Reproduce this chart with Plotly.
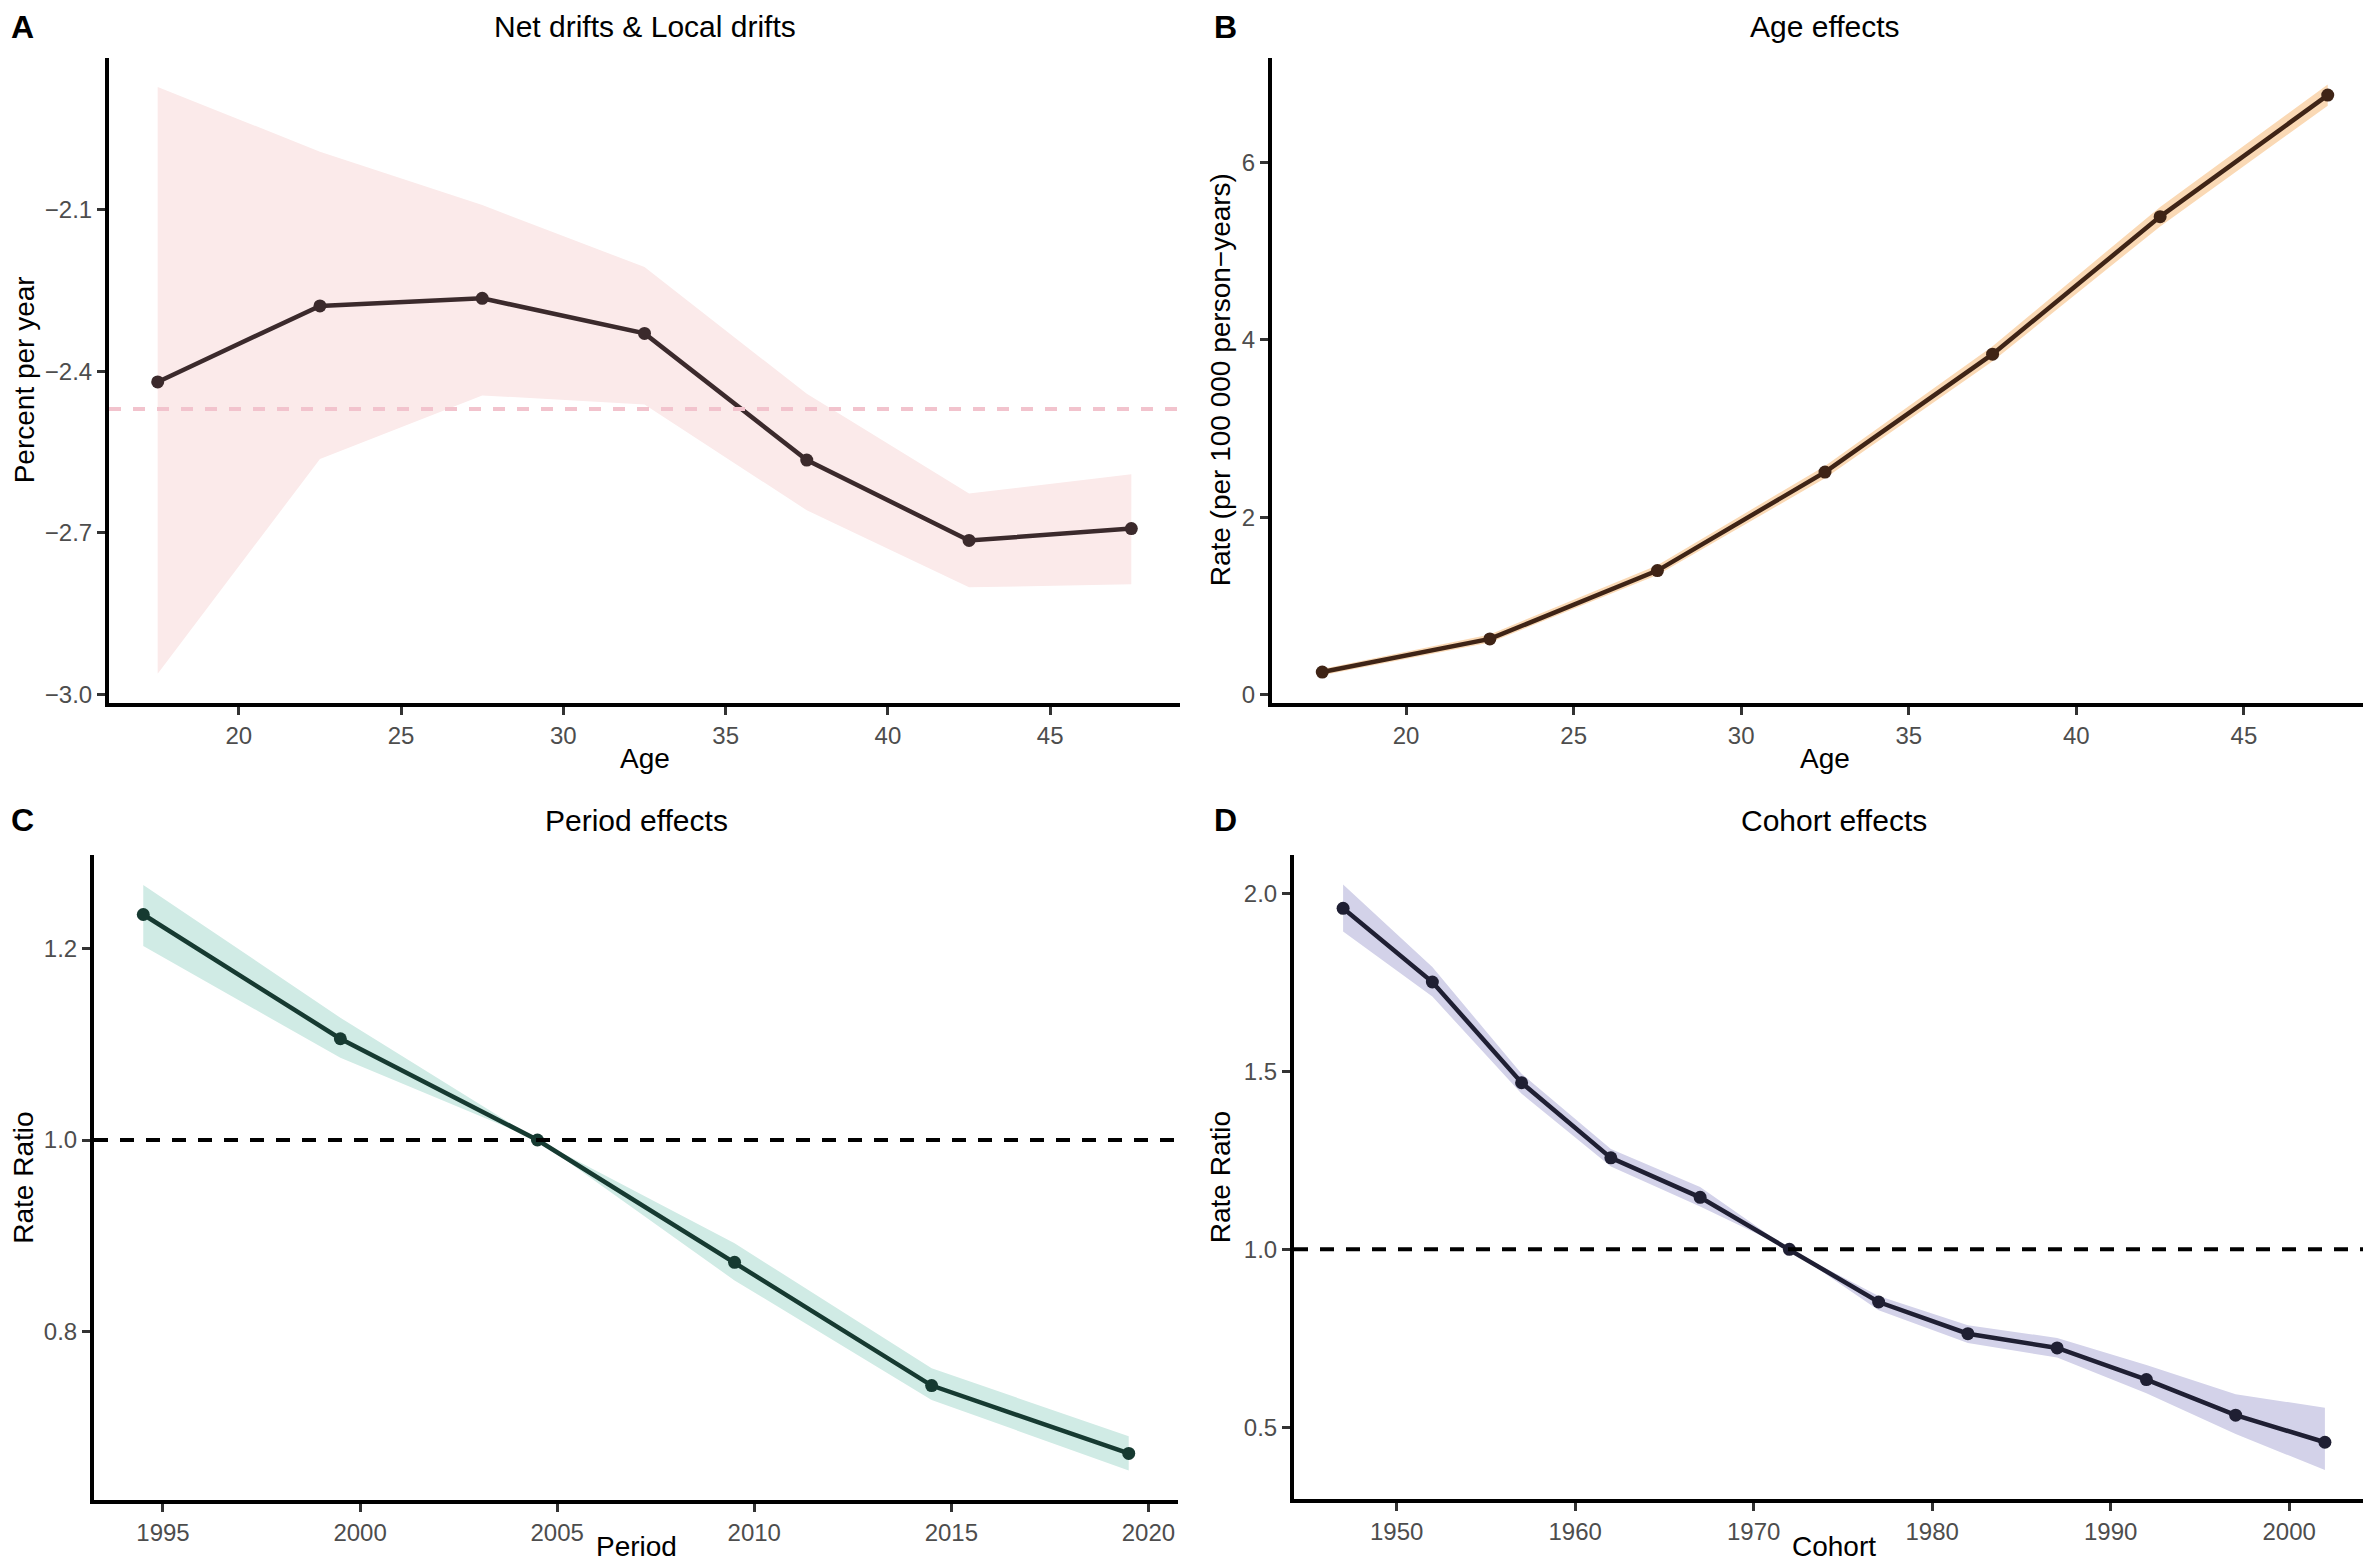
import plotly.graph_objects as go

# ---------------- data ----------------
# Panel A: Net drifts & local drifts
A_AGE = [17.5, 22.5, 27.5, 32.5, 37.5, 42.5, 47.5]
A_DRIFT = [-2.42, -2.279, -2.265, -2.33, -2.565, -2.714, -2.692]
A_UPPER = [-1.873, -1.993, -2.092, -2.207, -2.442, -2.627, -2.591]
A_LOWER = [-2.961, -2.563, -2.445, -2.462, -2.658, -2.801, -2.795]
NET_DRIFT = -2.47

# Panel B: Age effects
B_AGE = [17.5, 22.5, 27.5, 32.5, 37.5, 42.5, 47.5]
B_RATE = [0.256, 0.63, 1.40, 2.51, 3.84, 5.39, 6.76]
B_UPPER = [0.29, 0.68, 1.46, 2.58, 3.93, 5.50, 6.88]
B_LOWER = [0.22, 0.59, 1.35, 2.44, 3.76, 5.28, 6.64]

# Panel C: Period effects
C_PERIOD = [1994.5, 1999.5, 2004.5, 2009.5, 2014.5, 2019.5]
C_RR = [1.236, 1.106, 1.0, 0.872, 0.743, 0.672]
C_UPPER = [1.267, 1.128, 1.0, 0.892, 0.761, 0.690]
C_LOWER = [1.203, 1.086, 1.0, 0.853, 0.728, 0.654]

# Panel D: Cohort effects
D_COHORT = [1947, 1952, 1957, 1962, 1967, 1972, 1977, 1982, 1987, 1992, 1997, 2002]
D_RR = [1.958, 1.751, 1.468, 1.257, 1.146, 1.0, 0.852, 0.763, 0.723, 0.634, 0.534, 0.458]
D_UPPER = [2.025, 1.793, 1.493, 1.282, 1.175, 1.0, 0.869, 0.787, 0.751, 0.675, 0.593, 0.555]
D_LOWER = [1.893, 1.710, 1.437, 1.233, 1.120, 1.0, 0.829, 0.737, 0.696, 0.596, 0.481, 0.380]

REF_RR = 1.0

TITLES = ["Net drifts & Local drifts", "Age effects", "Period effects", "Cohort effects"]
LETTERS = ["A", "B", "C", "D"]
XLABELS = ["Age", "Age", "Period", "Cohort"]
YLABELS = ["Percent per year", "Rate (per 100 000 person\u2212years)", "Rate Ratio", "Rate Ratio"]

# ---------------- figure ----------------
W, H = 2371, 1564
FONT = "Liberation Sans, Arial, sans-serif"

def fx(px):
    return px / W

def fy(py):
    return 1 - py / H

fig = go.Figure()

panels = [
    dict(x=A_AGE, y=A_DRIFT, up=A_UPPER, lo=A_LOWER, band="#FBEAEA", line="#3B2A2C",
         xa="x", ya="y", dom_x=(101, 1172), dom_y=(50, 697),
         xr=[16, 49], yr=[-3.015, -1.819], xt=[20, 25, 30, 35, 40, 45], yt=[-3.0, -2.7, -2.4, -2.1], yf=".1f"),
    dict(x=B_AGE, y=B_RATE, up=B_UPPER, lo=B_LOWER, band="#FAD9B5", line="#3F2416",
         xa="x2", ya="y2", dom_x=(1264, 2370), dom_y=(50, 697),
         xr=[16, 49], yr=[-0.09, 7.18], xt=[20, 25, 30, 35, 40, 45], yt=[0, 2, 4, 6], yf="d"),
    dict(x=C_PERIOD, y=C_RR, up=C_UPPER, lo=C_LOWER, band="#D0EBE5", line="#163A31",
         xa="x3", ya="y3", dom_x=(86, 1170), dom_y=(850, 1497),
         xr=[1993.25, 2020.75], yr=[0.623, 1.298], xt=[1995, 2000, 2005, 2010, 2015, 2020], yt=[0.8, 1.0, 1.2], yf=".1f"),
    dict(x=D_COHORT, y=D_RR, up=D_UPPER, lo=D_LOWER, band="#D3D2E9", line="#1F1F33",
         xa="x4", ya="y4", dom_x=(1286, 2366), dom_y=(850, 1496),
         xr=[1944.25, 2004.75], yr=[0.298, 2.107], xt=[1950, 1960, 1970, 1980, 1990, 2000], yt=[0.5, 1.0, 1.5, 2.0], yf=".1f"),
]

layout_axes = {}
for i, p in enumerate(panels):
    # ribbon
    fig.add_trace(go.Scatter(
        x=list(p["x"]) + list(p["x"])[::-1],
        y=list(p["up"]) + list(p["lo"])[::-1],
        fill="toself", fillcolor=p["band"], line=dict(width=0, color=p["band"]),
        mode="lines", hoverinfo="skip", showlegend=False,
        xaxis=p["xa"], yaxis=p["ya"]))
    # line + points
    fig.add_trace(go.Scatter(
        x=p["x"], y=p["y"], mode="lines+markers",
        line=dict(color=p["line"], width=4.5),
        marker=dict(color=p["line"], size=13),
        showlegend=False, xaxis=p["xa"], yaxis=p["ya"]))

    suffix = "" if i == 0 else str(i + 1)
    axis_common = dict(showline=True, linecolor="black", linewidth=4, mirror=False,
                       showgrid=False, zeroline=False, ticks="outside", ticklen=8,
                       tickwidth=3, tickcolor="#333333",
                       tickfont=dict(family=FONT, size=24, color="#4D4D4D"))
    layout_axes["xaxis" + suffix] = dict(
        axis_common, domain=[fx(p["dom_x"][0]), fx(p["dom_x"][1])],
        range=p["xr"], tickvals=p["xt"], anchor="y" + suffix)
    layout_axes["yaxis" + suffix] = dict(
        axis_common, domain=[fy(p["dom_y"][1]), fy(p["dom_y"][0])],
        range=p["yr"], tickvals=p["yt"], tickformat=p["yf"], anchor="x" + suffix)

fig.update_layout(**layout_axes)

# reference dashed lines
fig.add_shape(type="line", xref="x domain", yref="y", x0=0, x1=1, y0=NET_DRIFT, y1=NET_DRIFT,
              line=dict(color="#F2C3CD", width=4, dash="12px,12px"))
fig.add_shape(type="line", xref="x3 domain", yref="y3", x0=0, x1=1, y0=REF_RR, y1=REF_RR,
              line=dict(color="black", width=4, dash="14px,12px"))
fig.add_shape(type="line", xref="x4 domain", yref="y4", x0=0, x1=1, y0=REF_RR, y1=REF_RR,
              line=dict(color="black", width=4, dash="14px,12px"))

# titles, letters, axis labels
ann = []
title_y = [19, 19, 815, 815]
letter_x = [14, 1217, 14, 1217]
xlab_y = [753, 753, 1543, 1543]
ylab_x = [16, 1212, 16, 1212]
for i, p in enumerate(panels):
    cx = (p["dom_x"][0] + p["dom_x"][1]) / 2
    cy = (p["dom_y"][0] + p["dom_y"][1]) / 2
    ann.append(dict(text=TITLES[i], x=fx(cx), y=fy(title_y[i]), xref="paper", yref="paper",
                    showarrow=False, xanchor="center", yanchor="middle",
                    font=dict(family=FONT, size=30, color="black")))
    ann.append(dict(text="<b>" + LETTERS[i] + "</b>", x=fx(letter_x[i]), y=fy(title_y[i]),
                    xref="paper", yref="paper", showarrow=False, xanchor="center", yanchor="middle",
                    font=dict(family=FONT, size=32, color="black")))
    ann.append(dict(text=XLABELS[i], x=fx(cx), y=fy(xlab_y[i]), xref="paper", yref="paper",
                    showarrow=False, xanchor="center", yanchor="middle",
                    font=dict(family=FONT, size=28, color="black")))
    ann.append(dict(text=YLABELS[i], x=fx(ylab_x[i]), y=fy(cy), xref="paper", yref="paper",
                    showarrow=False, xanchor="center", yanchor="middle", textangle=-90,
                    font=dict(family=FONT, size=28, color="black")))

fig.update_layout(
    annotations=ann,
    width=W, height=H,
    margin=dict(l=0, r=0, t=0, b=0),
    paper_bgcolor="white", plot_bgcolor="white",
    showlegend=False,
    font=dict(family=FONT),
)

fig.write_html("out.html")
